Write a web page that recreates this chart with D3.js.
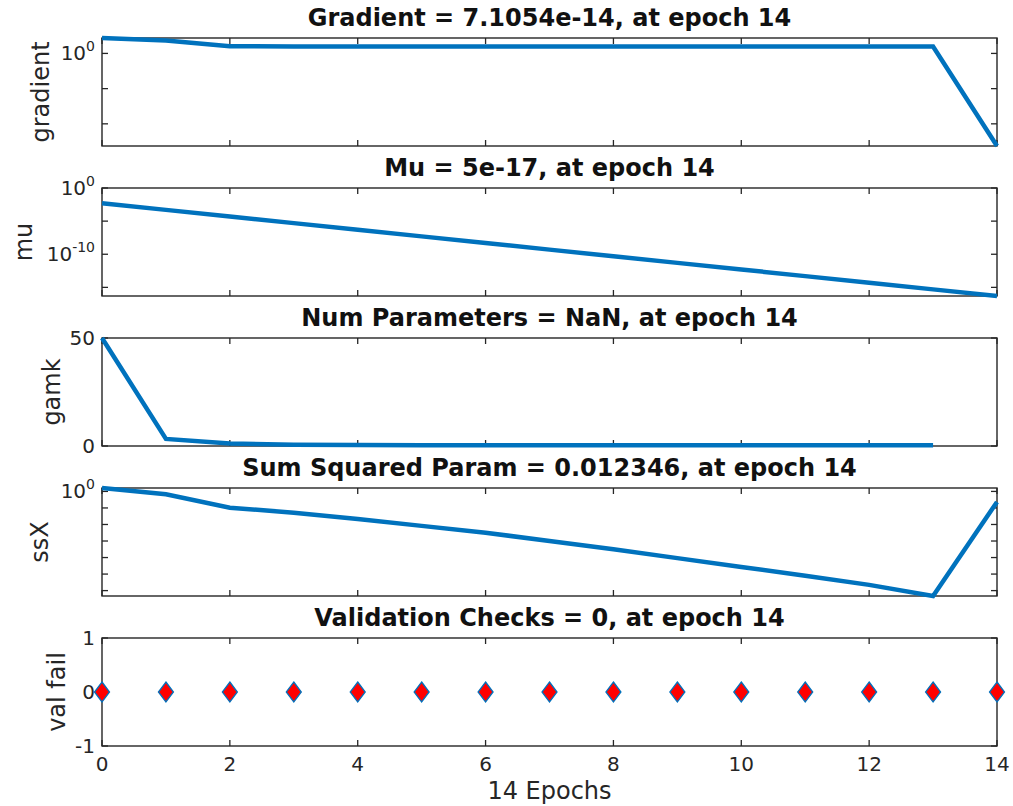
<!DOCTYPE html>
<html>
<head>
<meta charset="utf-8">
<script src="https://cdn.jsdelivr.net/npm/d3@7"></script>
<style>
  body { margin: 0; background: #fff; }
  svg { display: block; font-family: "DejaVu Sans", sans-serif; }
</style>
</head>
<body>
<div id="chart"></div>
<script>
// values
const epochs = [0, 1, 2, 3, 4, 5, 6, 7, 8, 9, 10, 11, 12, 13, 14];
const gradient = [155, 67, 10.2, 9.8, 9.7, 9.7, 9.6, 9.6, 9.6, 9.6, 9.6, 9.6, 9.6, 9.6, 7.1054e-14];
const mu = [5e-3, 5e-4, 5e-5, 5e-6, 5e-7, 5e-8, 5e-9, 5e-10, 5e-11, 5e-12, 5e-13, 5e-14, 5e-15, 5e-16, 5e-17];
const gamk = [50, 3.3, 1.2, 0.6, 0.45, 0.4, 0.38, 0.36, 0.35, 0.35, 0.34, 0.34, 0.34, 0.34, NaN];
const ssX = [4.17, 0.30, 1.1e-3, 1.4e-4, 1e-5, 5.6e-7, 3.2e-8, 1e-9, 3.2e-11, 7.9e-13, 2e-14, 5e-16, 1.1e-17, 1.05e-19, 0.012346];
const valFail = [0, 0, 0, 0, 0, 0, 0, 0, 0, 0, 0, 0, 0, 0, 0];

const titles = [
  "Gradient = 7.1054e-14, at epoch 14",
  "Mu = 5e-17, at epoch 14",
  "Num Parameters = NaN, at epoch 14",
  "Sum Squared Param = 0.012346, at epoch 14",
  "Validation Checks = 0, at epoch 14"
];
const yLabels = ["gradient", "mu", "gamk", "ssX", "val fail"];
const xTicks = [0, 2, 4, 6, 8, 10, 12, 14];
const xLabel = "14 Epochs";

const w = 1013;
const h = 806;
const left = 102, right = 997;
const tops = [38, 188, 338, 488, 638];
const ph = 108;
const blue = "#0072BD";
const ink = "#262626";

// per-panel settings (domains, ticks, which tick gets a label)
const panels = [
  { data: gradient, log: true, domain: d3.extent(gradient), ticks: [1, 1e-5, 1e-10], labels: {1: ["10", "0"]}, ylx: 41 },
  { data: mu, log: true, domain: [5e-17, 1], ticks: [1, 1e-5, 1e-10, 1e-15], labels: {1: ["10", "0"], 1e-10: ["10", "-10"]}, ylx: 24 },
  { data: gamk, log: false, domain: [0, 50], ticks: [0, 50], labels: {0: ["0"], 50: ["50"]}, ylx: 52 },
  { data: ssX, log: true, domain: d3.extent(ssX), ticks: [1, 1e-3, 1e-6, 1e-9, 1e-12, 1e-15, 1e-18], labels: {1: ["10", "0"]}, ylx: 40 },
  { data: valFail, log: false, domain: [-1, 1], ticks: [-1, 0, 1], labels: {"-1": ["-1"], 0: ["0"], 1: ["1"]}, ylx: 57, markers: true }
];

const svg = d3.select("#chart")
  .append("svg")
  .attr("width", w)
  .attr("height", h);

const x = d3.scaleLinear()
  .domain([0, 14])
  .range([left, right]);

panels.forEach(function(p, i) {
  const top = tops[i];
  const bottom = top + ph;
  const y = (p.log ? d3.scaleLog() : d3.scaleLinear())
    .domain(p.domain)
    .range([bottom, top]);

  const g = svg.append("g");

  // box
  g.append("rect")
    .attr("x", left).attr("y", top)
    .attr("width", right - left).attr("height", ph)
    .attr("fill", "none")
    .attr("stroke", ink)
    .attr("stroke-width", 1.4);

  // inward ticks on all four sides
  const tick = 6;
  g.selectAll(".xt").data(xTicks).join("line")
    .attr("x1", d => x(d)).attr("x2", d => x(d))
    .attr("y1", bottom).attr("y2", bottom - tick)
    .attr("stroke", ink).attr("stroke-width", 1.3);
  g.selectAll(".xtt").data(xTicks).join("line")
    .attr("x1", d => x(d)).attr("x2", d => x(d))
    .attr("y1", top).attr("y2", top + tick)
    .attr("stroke", ink).attr("stroke-width", 1.3);
  g.selectAll(".yt").data(p.ticks).join("line")
    .attr("x1", left).attr("x2", left + tick)
    .attr("y1", d => y(d)).attr("y2", d => y(d))
    .attr("stroke", ink).attr("stroke-width", 1.3);
  g.selectAll(".ytr").data(p.ticks).join("line")
    .attr("x1", right).attr("x2", right - tick)
    .attr("y1", d => y(d)).attr("y2", d => y(d))
    .attr("stroke", ink).attr("stroke-width", 1.3);

  // y tick labels
  p.ticks.forEach(function(t) {
    const lab = p.labels[t];
    if (!lab) return;
    const txt = g.append("text")
      .attr("x", left - 7)
      .attr("y", y(t) + 7)
      .attr("text-anchor", "end")
      .attr("fill", ink)
      .attr("font-size", 20);
    txt.append("tspan").text(lab[0]);
    if (lab[1]) {
      txt.append("tspan")
        .attr("dy", -9)
        .attr("font-size", 14)
        .text(lab[1]);
    }
  });

  // y label
  g.append("text")
    .attr("transform", `translate(${p.ylx},${top + ph / 2}) rotate(-90)`)
    .attr("text-anchor", "middle")
    .attr("dominant-baseline", "central")
    .attr("fill", ink)
    .attr("font-size", 24)
    .text(yLabels[i]);

  // title
  g.append("text")
    .attr("x", (left + right) / 2)
    .attr("y", top - 12)
    .attr("text-anchor", "middle")
    .attr("font-weight", "bold")
    .attr("font-size", 24)
    .attr("fill", "#111")
    .text(titles[i]);

  const pts = epochs.map((e, k) => ({ e: e, v: p.data[k] }));

  if (p.markers) {
    g.selectAll(".mk").data(pts).join("path")
      .attr("d", d => {
        const cx = x(d.e), cy = y(d.v);
        return `M${cx},${cy - 10}L${cx + 7.5},${cy}L${cx},${cy + 10}L${cx - 7.5},${cy}Z`;
      })
      .attr("fill", "#ff0000")
      .attr("stroke", blue)
      .attr("stroke-width", 1.3);
  } else {
    const line = d3.line()
      .defined(d => !isNaN(d.v))
      .x(d => x(d.e))
      .y(d => y(d.v));
    g.append("path")
      .datum(pts)
      .attr("fill", "none")
      .attr("stroke", blue)
      .attr("stroke-width", 4.5)
      .attr("d", line);
  }

  // x tick labels on the last panel only
  if (i === panels.length - 1) {
    g.selectAll(".xl").data(xTicks).join("text")
      .attr("x", d => x(d))
      .attr("y", bottom + 25)
      .attr("text-anchor", "middle")
      .attr("fill", ink)
      .attr("font-size", 20)
      .text(d => d);
    g.append("text")
      .attr("x", (left + right) / 2)
      .attr("y", 799)
      .attr("text-anchor", "middle")
      .attr("fill", ink)
      .attr("font-size", 24)
      .text(xLabel);
  }
});
</script>
</body>
</html>
